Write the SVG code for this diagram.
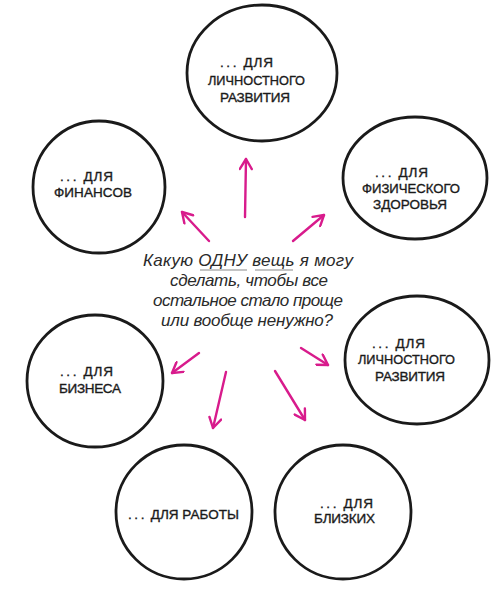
<svg xmlns="http://www.w3.org/2000/svg" width="500" height="589" viewBox="0 0 500 589">
<style>
.c{fill:none;stroke:#1a1a1a;stroke-width:2.8}
.l{font-family:"Liberation Sans",Arial,sans-serif;font-size:13.5px;fill:#1a1a1a;stroke:#1a1a1a;stroke-width:0.35}
.d{letter-spacing:0.8px}
.dt{letter-spacing:2.6px}
.q{font-family:"Liberation Sans",Arial,sans-serif;font-style:italic;font-size:17px;fill:#2a2a2a}
.a{fill:none;stroke:#d81b8c;stroke-width:2.4;stroke-linecap:round;marker-end:url(#h)}
.u{stroke:#8a8a8a;stroke-width:1.2}
</style>
<defs>
<marker id="h" viewBox="0 0 14 14" refX="12" refY="7" markerWidth="14" markerHeight="14" markerUnits="userSpaceOnUse" orient="auto">
<path d="M2,1 L12,7 L2,13" fill="none" stroke="#d81b8c" stroke-width="2.4" stroke-linecap="round" stroke-linejoin="round"/>
</marker>
</defs>
<rect width="500" height="589" fill="#fff"/>
<g id="n-top">
<ellipse class="c" cx="262" cy="73" rx="75" ry="68"/>
<text class="l d" x="220" y="67"><tspan class="dt">...</tspan> ДЛЯ</text>
<text class="l" x="208" y="85" textLength="97" lengthAdjust="spacingAndGlyphs">ЛИЧНОСТНОГО</text>
<text class="l" x="220" y="102" textLength="70" lengthAdjust="spacing">РАЗВИТИЯ</text>
</g>
<g id="n-fin">
<ellipse class="c" cx="99" cy="187" rx="66" ry="66"/>
<text class="l d" x="60" y="181"><tspan class="dt">...</tspan> ДЛЯ</text>
<text class="l" x="54" y="197" textLength="78" lengthAdjust="spacing">ФИНАНСОВ</text>
</g>
<g id="n-health">
<ellipse class="c" cx="415" cy="178" rx="72" ry="61"/>
<text class="l d" x="375" y="177"><tspan class="dt">...</tspan> ДЛЯ</text>
<text class="l" x="362" y="193" textLength="98" lengthAdjust="spacingAndGlyphs">ФИЗИЧЕСКОГО</text>
<text class="l" x="373" y="209" textLength="74" lengthAdjust="spacing">ЗДОРОВЬЯ</text>
</g>
<g id="n-pd2">
<ellipse class="c" cx="417" cy="360" rx="72" ry="64"/>
<text class="l d" x="372" y="348"><tspan class="dt">...</tspan> ДЛЯ</text>
<text class="l" x="358" y="364" textLength="97" lengthAdjust="spacingAndGlyphs">ЛИЧНОСТНОГО</text>
<text class="l" x="375" y="381" textLength="70" lengthAdjust="spacing">РАЗВИТИЯ</text>
</g>
<g id="n-biz">
<ellipse class="c" cx="95" cy="381" rx="68" ry="66"/>
<text class="l d" x="60" y="376"><tspan class="dt">...</tspan> ДЛЯ</text>
<text class="l" x="59" y="393" textLength="62" lengthAdjust="spacing">БИЗНЕСА</text>
</g>
<g id="n-work">
<ellipse class="c" cx="184" cy="512" rx="68" ry="67"/>
<text class="l" x="128" y="519"><tspan class="dt">...</tspan> ДЛЯ РАБОТЫ</text>
</g>
<g id="n-close">
<ellipse class="c" cx="343" cy="512" rx="68" ry="67"/>
<text class="l d" x="320" y="508"><tspan class="dt">...</tspan> ДЛЯ</text>
<text class="l" x="314" y="523" textLength="61" lengthAdjust="spacing">БЛИЗКИХ</text>
</g>
<g id="center">
<text class="q" x="143" y="266" textLength="210" lengthAdjust="spacing">Какую ОДНУ вещь я могу</text>
<text class="q" x="170" y="286" textLength="158" lengthAdjust="spacing">сделать, чтобы все</text>
<text class="q" x="153" y="306" textLength="190" lengthAdjust="spacing">остальное стало проще</text>
<text class="q" x="161" y="326" textLength="172" lengthAdjust="spacing">или вообще ненужно?</text>
<line class="u" x1="200" y1="270" x2="247" y2="270"/>
<line class="u" x1="255" y1="270" x2="293" y2="270"/>
</g>
<g id="connectors">
<path class="a" d="M245,217 L246,159"/>
<path class="a" d="M209,241 L182,212"/>
<path class="a" d="M293,241 L324,215"/>
<path class="a" d="M301,348 L328,365"/>
<path class="a" d="M199,353 L172,373"/>
<path class="a" d="M226,372 L213,428"/>
<path class="a" d="M275,371 L305,420"/>
</g>
</svg>
